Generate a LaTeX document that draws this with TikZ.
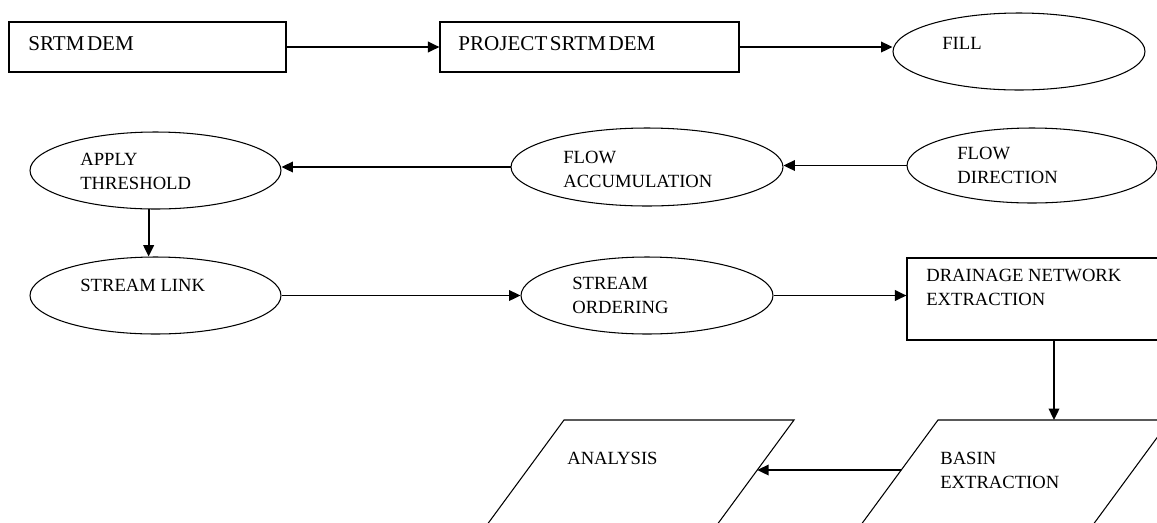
\documentclass[tikz,border=0pt]{standalone}
\usepackage{fontspec}
\setmainfont{Liberation Serif}
\usetikzlibrary{
  arrows.meta,
  shapes.geometric,
  calc
}

\begin{document}
\begin{tikzpicture}[
  x=0.02cm, y=-0.02cm,
  box/.style={draw=black, line width=0.7pt, rectangle, inner sep=0pt, minimum height=1.0cm},
  oval/.style={draw=black, line width=0.6pt, ellipse, inner sep=0pt, minimum width=5.02cm, minimum height=1.54cm},
  para/.style={draw=black, line width=0.6pt, line join=miter},
  txt/.style={font=\fontsize{10.6}{13.7}\selectfont, anchor=north west, align=left, inner sep=0pt, text=black},
  bigtxt/.style={txt, font=\fontsize{12}{14}\selectfont},
  arr/.style={draw=black, line width=1.1pt, -{Triangle[length=6.5pt, width=6pt]}}
]

% page frame
\useasboundingbox (0,0) rectangle (1157,522);
\clip (0,0) rectangle (1157,522);

% first row
\node[box, minimum width=5.54cm] (srtm) at (147.5,47) {};
\node[bigtxt] (srtmtxt) at (28,36) {SRTM\hspace{0.12em}DEM};

\node[box, minimum width=5.98cm] (proj) at (589.5,47) {};
\node[bigtxt] (projtxt) at (458,36) {PROJECT\hspace{0.12em}SRTM\hspace{0.12em}DEM};

\node[oval, minimum width=5.04cm] (fill) at (1019,51.5) {};
\node[txt] (filltxt) at (942,37) {FILL};

% second row
\node[oval] (apply) at (155.5,170.5) {};
\node[txt] (applytxt) at (80,153) {APPLY\\THRESHOLD};

\node[oval, minimum width=5.44cm, minimum height=1.56cm] (flowacc) at (647,167) {};
\node[txt] (flowacctxt) at (563,151) {FLOW\\ACCUMULATION};

\node[oval, minimum width=5.0cm, minimum height=1.5cm] (flowdir) at (1032,165.5) {};
\node[txt] (flowdirtxt) at (957,147) {FLOW\\DIRECTION};

% third row
\node[oval] (slink) at (155.5,295.5) {};
\node[txt] (slinktxt) at (80,279) {STREAM LINK};

\node[oval, minimum width=5.04cm] (sorder) at (647,295.5) {};
\node[txt] (sordertxt) at (572,277) {STREAM\\ORDERING};

\node[box, minimum width=5.26cm, minimum height=1.64cm] (drain) at (1038.5,299) {};
\node[txt] (draintxt) at (926,269) {DRAINAGE NETWORK\\EXTRACTION};

% bottom row (parallelograms, cut by the page edge)
\coordinate (basintl) at (938,420);
\coordinate (basintr) at (1170,420);
\coordinate (basintop) at ($(basintl)!0.5!(basintr)$);
\coordinate (basinleft) at ($(basintl)+(-36.75,50)$);
\draw[para] ($(basintl)+(-95.5,130)$) -- (basintl) -- (basintr) -- ++(-95.5,130);
\node[txt] (basintxt) at (940,452) {BASIN\\EXTRACTION};

\coordinate (analysistl) at (564,420);
\coordinate (analysistr) at (794,420);
\coordinate (analysisright) at ($(analysistr)+(-36.75,50)$);
\draw[para] ($(analysistl)+(-95.5,130)$) -- (analysistl) -- (analysistr) -- ++(-95.5,130);
\node[txt] (analysistxt) at (567,452) {ANALYSIS};

% connectors
\draw[arr] (srtm.east) -- (proj.west);
\draw[arr] (proj.east) -- (proj.east -| fill.west);
\draw[arr] (flowdir.west) -- (flowdir.west -| flowacc.east);
\draw[arr] (flowacc.west) -- (flowacc.west -| apply.east);
\draw[arr] (apply.260) -- (slink.100);
\draw[arr] (slink.east) -- (sorder.west);
\draw[arr] (sorder.east) -- (sorder.east -| drain.west);
\draw[arr] (drain.south -| basintop) -- (basintop);
\draw[arr] (basinleft) -- (analysisright);

\end{tikzpicture}
\end{document}
